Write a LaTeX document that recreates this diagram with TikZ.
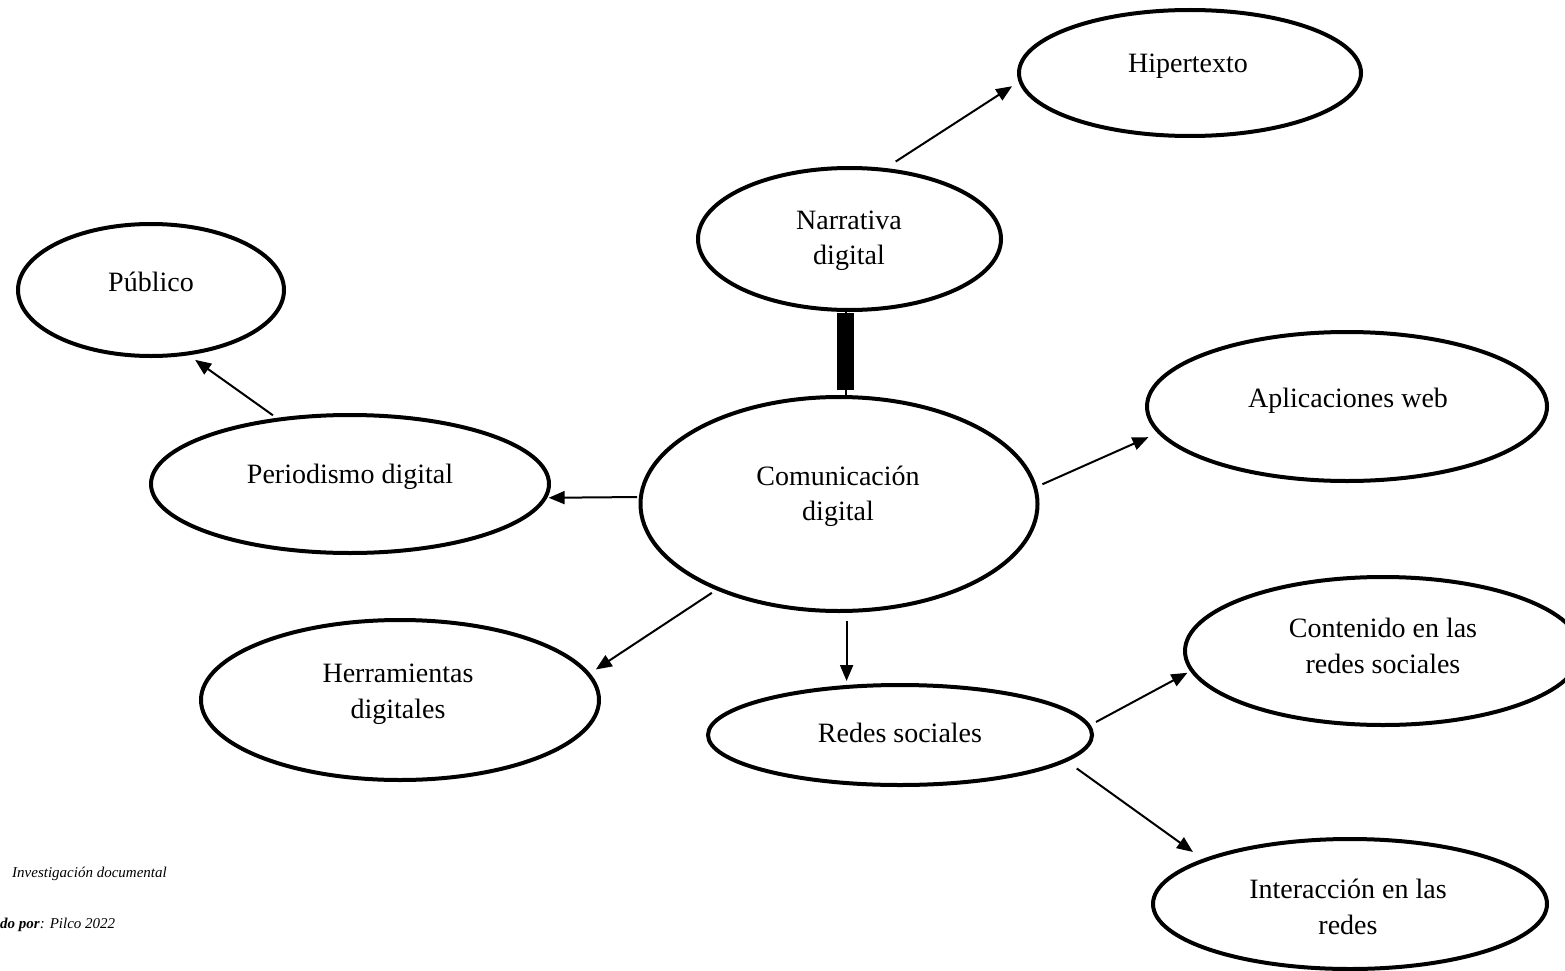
\documentclass[tikz,border=0pt]{standalone}
\usepackage{fontspec}
\setmainfont{Liberation Serif}
\usetikzlibrary{shapes.geometric,arrows.meta}
\tikzset{
  bub/.style={ellipse, draw=black, line width=4pt, inner sep=0pt},
  lbl/.style={font=\fontsize{28}{35.5}\selectfont, align=center, inner sep=0pt},
  conn/.style={draw=black, line width=2pt, -{Triangle[length=16pt,width=13pt]}},
  thinline/.style={draw=black, line width=2pt},
  captxt/.style={font=\fontsize{15}{18}\selectfont\itshape, inner sep=0pt, anchor=base west}
}
\begin{document}
\begin{tikzpicture}[x=1pt,y=-1pt]
\useasboundingbox (0,0) rectangle (1565,971);
\fill[white] (0,0) rectangle (1565,971);
\clip (0,0) rectangle (1565,971);
% ellipses
\node[bub, minimum width=342pt, minimum height=126pt] (hip) at (1190,73) {};
\node[bub, minimum width=303pt, minimum height=142pt] (narr) at (849.5,239) {};
\node[bub, minimum width=266pt, minimum height=132pt] (pub) at (151,290) {};
\node[bub, minimum width=400pt, minimum height=149pt] (apl) at (1347,406.5) {};
\node[bub, minimum width=398pt, minimum height=138pt] (per) at (350,484) {};
\node[bub, minimum width=397pt, minimum height=214pt] (com) at (839,504) {};
\node[bub, minimum width=398pt, minimum height=160pt] (her) at (400,700) {};
\node[bub, minimum width=384pt, minimum height=100pt] (red) at (900,735) {};
\node[bub, minimum width=396pt, minimum height=148pt] (con) at (1383,651) {};
\node[bub, minimum width=394pt, minimum height=130pt] (int) at (1350,904) {};
% texts
\node[lbl] (hipt) at (1188,65.8) {Hipertexto};
\node[lbl] (narrt) at (849,240.5) {Narrativa\\digital};
\node[lbl] (comt) at (838,496.5) {Comunicación\\digital};
\node[lbl] (aplt) at (1348,400.6) {Aplicaciones web};
\node[lbl] (pubt) at (151,281.5) {Público};
\node[lbl] (pert) at (350,476.8) {Periodismo digital};
\node[lbl] (hert) at (398,694) {Herramientas\\digitales};
\node[lbl] (redt) at (900,732.5) {Redes sociales};
\node[lbl] (cont) at (1383,646) {Contenido en las\\redes sociales};
\node[lbl] (intt) at (1348,907) {Interacción en las\\redes};
% thick bar between Narrativa and Comunicacion
\coordinate (bartop) at ([xshift=-4pt]narr.south);
\draw[thinline] (bartop) -- (bartop |- com.north);
\fill[black] ([xshift=-8.5pt,yshift=-0.5pt]bartop) rectangle ([xshift=8.5pt,yshift=5pt]bartop |- com.north);
% connectors
\draw[conn, shorten <=12pt, shorten >=7.8pt] (narr.63.4) -- (hip.183.7);
\draw[conn, shorten <=4.5pt, shorten >=7.9pt] (per.138.4) -- (pub.300.8);
\draw[conn, shorten <=1.9pt, shorten >=1.5pt] (com.178) -- (per.356.8);
\draw[conn, shorten <=6pt, shorten >=10pt] (com.5.5) -- (apl.188.4);
\draw[conn, shorten <=5pt, shorten >=6.9pt] (com.215.5) -- (her.8.7);
\draw[conn, shorten <=8pt, shorten >=2pt] (com.274.5) -- (com.274.5 |- red.north);
\draw[conn, shorten <=6.4pt, shorten >=3.2pt] (red.3.75) -- (con.186.2);
\draw[conn, shorten <=12pt, shorten >=12pt] (red.351.2) -- (int.163.65);
% caption
\node[captxt] (src) at (12,877) {Investigación documental};
\node[captxt] (auth) at (0,928) {\bfseries do por\mdseries: Pilco 2022};
\end{tikzpicture}
\end{document}
